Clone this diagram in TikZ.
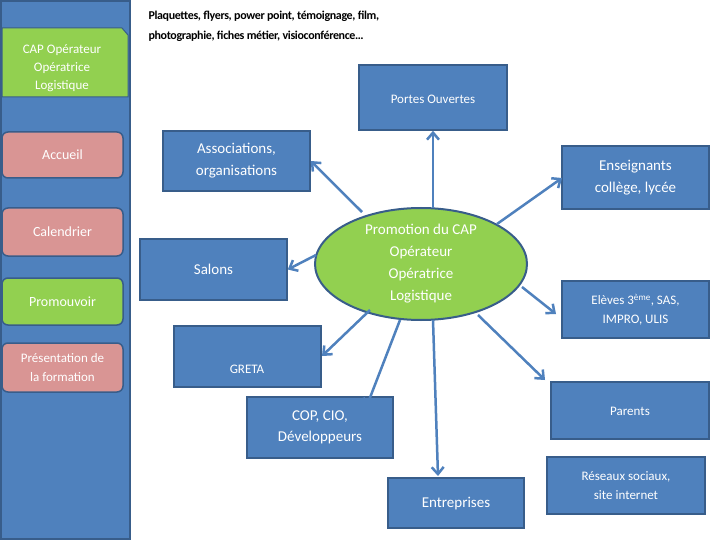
\documentclass[tikz,border=0pt]{standalone}
\usepackage{fontspec}
\setmainfont{Carlito}
\usetikzlibrary{arrows.meta,shapes.geometric}
\definecolor{bl}{HTML}{4F81BD}
\definecolor{bd}{HTML}{385D8A}
\definecolor{gr}{HTML}{92D050}
\definecolor{pk}{HTML}{D99594}
\begin{document}
\begin{tikzpicture}[x=1pt,y=-1pt,
  box/.style={draw=bd,line width=1.5pt,fill=bl,text=white,align=center,font=\fontsize{14}{17}\selectfont,inner sep=0pt},
  side/.style={draw=bd,line width=1.5pt,rounded corners=6pt,text=white,align=center,font=\fontsize{14}{17}\selectfont,inner sep=0pt},
  arr/.style={draw=bl,line width=2.5pt,-{Straight Barb[length=7pt,width=12pt]}}]
\useasboundingbox (0,0) rectangle (720,540);
\fill[white] (0,0) rectangle (720,540);
% left panel
\draw[fill=bl,draw=bd,line width=1.5pt] (1,1) rectangle (130,539);
\draw[fill=gr,draw=bd,line width=1pt] (2,28) -- (122,28) -- (128,35) -- (128,97) -- (2,97) -- cycle;
\node[text=white,align=center,font=\fontsize{13}{18}\selectfont] (cap) at (62,68) {CAP Opérateur\\Opératrice\\Logistique};
\node[side,fill=pk,minimum width=121pt,minimum height=46pt] (acc) at (62.5,155) {Accueil};
\node[side,fill=pk,minimum width=121pt,minimum height=48pt] (cal) at (62.5,232) {Calendrier};
\node[side,fill=gr,minimum width=121pt,minimum height=47pt] (pro) at (62.5,301.5) {Promouvoir};
\node[side,fill=pk,minimum width=121pt,minimum height=49pt,font=\fontsize{13}{19}\selectfont] (pres) at (62.5,367.5) {Présentation de\\la formation};
% header
\node[anchor=north west,align=left,font=\bfseries\fontsize{12}{20}\selectfont\addfontfeatures{LetterSpace=-3}] (hdr) at (145,8) {Plaquettes, flyers, power point, témoignage, film,\\photographie, fiches métier, visioconférence…};
% center
\node[draw=bd,line width=2pt,fill=gr,ellipse,minimum width=212pt,minimum height=112pt,inner sep=0pt,text=white,align=center,font=\fontsize{15}{22}\selectfont] (c) at (421,264) {Promotion du CAP\\Opérateur\\Opératrice\\Logistique};
% boxes
\node[box,minimum width=148pt,minimum height=65pt] (po) at (433,97.5) {};
\node[text=white,font=\fontsize{13}{15}\selectfont] (pot) at (433,99) {Portes Ouvertes};
\node[box,minimum width=147pt,minimum height=60pt,font=\fontsize{15}{22}\selectfont] (as) at (236.5,161) {Associations,\\organisations};
\node[box,minimum width=147pt,minimum height=61pt,font=\fontsize{15}{18}\selectfont] (sa) at (213.5,269.5) {Salons};
\node[box,minimum width=147pt,minimum height=61pt,font=\fontsize{13}{18}\selectfont] (gr) at (247.5,356.5) {};
\node[text=white,font=\fontsize{13}{15}\selectfont] (grt) at (247,369) {GRETA};
\node[box,minimum width=146pt,minimum height=61pt,font=\fontsize{15}{21}\selectfont] (cop) at (320,427.5) {COP, CIO,\\Développeurs};
\node[box,minimum width=147pt,minimum height=63pt,font=\fontsize{15}{22}\selectfont] (en) at (635.5,177.5) {Enseignants\\collège, lycée};
\node[box,minimum width=147pt,minimum height=57pt,font=\fontsize{13}{19}\selectfont] (el) at (635.5,309.5) {Elèves 3\textsuperscript{ème}, SAS,\\IMPRO, ULIS};
\node[box,minimum width=158pt,minimum height=57pt] (pa) at (630,410.5) {};
\node[text=white,font=\fontsize{13}{15}\selectfont] (pat) at (630,411) {Parents};
\node[box,minimum width=158pt,minimum height=57pt,font=\fontsize{13}{19}\selectfont] (re) at (626,485.5) {};
\node[text=white,align=center,font=\fontsize{13}{19}\selectfont] (ret) at (626,486) {Réseaux sociaux,\\site internet};
\node[box,minimum width=136pt,minimum height=50pt,font=\fontsize{15}{18}\selectfont] (ent) at (456,503) {};
\node[text=white,font=\fontsize{15}{18}\selectfont] (entt) at (456,504) {Entreprises};
% arrows
\draw[arr] (433,208) -- (po.south);
\draw[arr] (362,212) -- (as.east);
\draw[arr] (316,255) -- (sa.east);
\draw[arr] (370,310) -- (322,356);
\draw[arr] (400,320) -- (366,408);
\draw[arr] (433,320) -- (438,476);
\draw[arr] (478,315) -- (545,380);
\draw[arr] (522,287) -- (556,314);
\draw[arr] (497,224) -- (562,178);
\end{tikzpicture}
\end{document}
